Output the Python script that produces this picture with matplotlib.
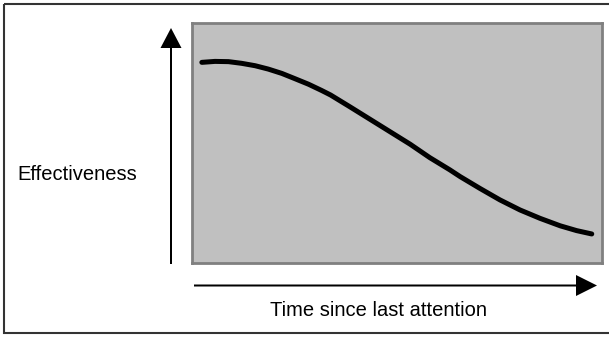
import matplotlib.pyplot as plt
from matplotlib.patches import Rectangle

plt.rcParams['font.family'] = ['Liberation Sans', 'DejaVu Sans']

# curve (time 0-100, effectiveness 0-100)
time = [2.4, 5.6, 8.9, 12.1, 15.4, 18.6, 21.9, 25.1, 28.4, 31.6, 33.8,
        38.5, 43.4, 48.3, 53.2, 58.0, 62.9, 65.4, 70.2, 75.1, 80.0,
        84.9, 89.8, 93.8, 97.5]
effectiveness = [83.6, 84.0, 83.9, 83.2, 82.2, 80.8, 79.0, 76.8, 74.5, 71.9, 70.0,
                 65.1, 59.9, 54.7, 49.5, 43.9, 38.8, 36.0, 31.1, 26.3, 22.1,
                 18.6, 15.5, 13.5, 12.1]

y_label = 'Effectiveness'
x_label = 'Time since last attention'

W, H = 609, 337
fig = plt.figure(figsize=(W / 100, H / 100), dpi=100)

# overlay in pixel units for frame, arrows and labels
bg = fig.add_axes([0, 0, 1, 1])
bg.set_xlim(0, W)
bg.set_ylim(H, 0)
bg.axis('off')
bg.add_patch(Rectangle((4, 4), W + 4, H - 8, fill=False, ec='#333333', lw=1.5))
bg.arrow(171, 264, 0, -236, width=2, head_width=21, head_length=20,
         length_includes_head=True, fc='black', lw=0)
bg.arrow(194, 285.5, 403, 0, width=2, head_width=21, head_length=21,
         length_includes_head=True, fc='black', lw=0)
bg.text(17, 174, y_label, fontsize=14.5, ha='left', va='center')
bg.text(378.5, 310, x_label, fontsize=14.5, ha='center', va='center')

# grey plot area
left, top, right, bottom = 192, 23, 602, 263
ax = fig.add_axes([left / W, (H - bottom) / H, (right - left) / W, (bottom - top) / H])
ax.set_facecolor('#c0c0c0')
for s in ax.spines.values():
    s.set_color('#808080')
    s.set_linewidth(2)
ax.set_xticks([])
ax.set_yticks([])
ax.set_xlim(0, 100)
ax.set_ylim(0, 100)
ax.plot(time, effectiveness, color='black', lw=3.6, solid_capstyle='round',
        solid_joinstyle='round')

fig.savefig('out.png', dpi=100)
